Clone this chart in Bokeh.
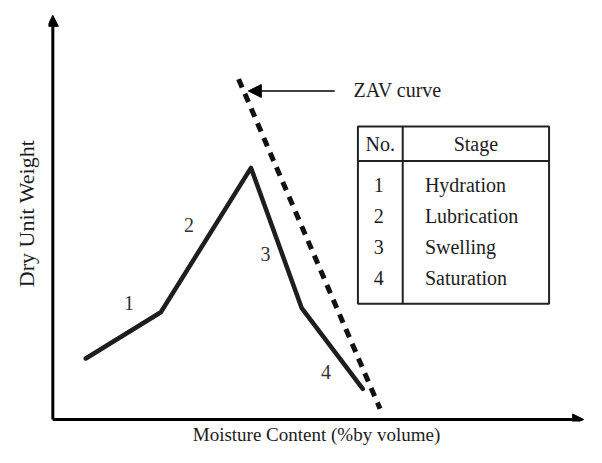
from bokeh.plotting import figure
from bokeh.models import Range1d, Arrow, NormalHead, ColumnDataSource, FixedTicker
from bokeh.embed import file_html
from bokeh.resources import INLINE
from bokeh.core.properties import value

# ---- data (schematic, arbitrary units) ----
moisture = [6.1, 20.0, 36.7, 46.1, 57.4]
dry_unit_weight = [14.9, 26.2, 61.5, 27.2, 7.5]

zav_moisture = [34.4, 60.6]
zav_weight = [83.2, 2.6]

stage_no = ["1", "2", "3", "4"]
stage_name = ["Hydration", "Lubrication", "Swelling", "Saturation"]

x_title = "Moisture Content (%by volume)"
y_title = "Dry Unit Weight"
zav_text = "ZAV curve"

# ---- layout constants ----
FONT = value("Liberation Serif")
FS = "20px"
TXT = "#1c1c1c"
stage_lbl_x = [14.1, 25.2, 39.4, 50.6]
stage_lbl_y = [28.4, 47.6, 40.4, 11.5]
tbl_left, tbl_right, tbl_top, tbl_bottom = 56.5, 91.9, 71.6, 28.3
tbl_head, tbl_col = 63.2, 64.8
row_top, row_step = 57.3, 7.6

p = figure(width=586, height=447, output_backend="svg", toolbar_location=None,
           x_range=Range1d(-0.8, 98.46), y_range=Range1d(-0.5, 101.2),
           min_border_left=48, min_border_right=2, min_border_top=5, min_border_bottom=25)
p.grid.visible = False
p.outline_line_color = None
p.background_fill_color = "white"
p.border_fill_color = "white"

for ax in (p.xaxis[0], p.yaxis[0]):
    ax.ticker = FixedTicker(ticks=[])
    ax.axis_line_color = None
    ax.major_tick_line_color = None
    ax.minor_tick_line_color = None
    ax.major_tick_out = 0
    ax.minor_tick_out = 0
    ax.major_label_standoff = 0
    ax.axis_label_text_font = "Liberation Serif"
    ax.axis_label_text_font_style = "normal"
    ax.axis_label_text_color = TXT
p.xaxis.axis_label = x_title
p.yaxis.axis_label = y_title
p.xaxis.axis_label_text_font_size = "19px"
p.yaxis.axis_label_text_font_size = "22px"
p.xaxis.axis_label_standoff = 2
p.yaxis.axis_label_standoff = 10

# axes as arrows
p.add_layout(Arrow(end=NormalHead(size=11, fill_color="black", line_color="black"),
                   x_start=0, y_start=0, x_end=0, y_end=98.8, line_width=3, line_color="black"))
p.add_layout(Arrow(end=NormalHead(size=11, fill_color="black", line_color="black"),
                   x_start=0, y_start=0, x_end=98.3, y_end=0, line_width=3, line_color="black"))

# compaction curve
p.line(moisture, dry_unit_weight, line_width=4.5, line_color="#1e1e1e", line_join="round", line_cap="round")

# ZAV curve
p.line(zav_moisture, zav_weight, line_width=5, line_color="#111111", line_dash="9 7")

# arrow pointing to ZAV curve
p.add_layout(Arrow(end=NormalHead(size=13, fill_color="black", line_color="black"),
                   x_start=52.2, y_start=80.3, x_end=36.2, y_end=80.3, line_width=1.6, line_color="black"))
p.text([55.7], [80.6], text=[zav_text], text_font=FONT, text_font_size=FS,
       text_baseline="middle", text_align="left", text_color=TXT)

# stage labels on curve
p.text(stage_lbl_x, stage_lbl_y, text=stage_no, text_font=FONT, text_font_size=FS,
       text_baseline="middle", text_align="center", text_color="#333333")

# table
p.quad(left=[tbl_left], right=[tbl_right], bottom=[tbl_bottom], top=[tbl_top],
       fill_color=None, line_color="#222222", line_width=2)
p.segment(x0=[tbl_left, tbl_col], y0=[tbl_head, tbl_bottom], x1=[tbl_right, tbl_col], y1=[tbl_head, tbl_top],
          line_color="#222222", line_width=2)
head_y = (tbl_top + tbl_head) / 2
p.text([(tbl_left + tbl_col) / 2, (tbl_col + tbl_right) / 2], [head_y, head_y], text=["No.", "Stage"],
       text_font=FONT, text_font_size=FS, text_baseline="middle", text_align="center", text_color=TXT)
row_y = [row_top - i * row_step for i in range(len(stage_no))]
src = ColumnDataSource(dict(y=row_y, no=stage_no, name=stage_name,
                            xn=[(tbl_left + tbl_col) / 2 - 0.3] * len(stage_no),
                            xs=[tbl_col + 4.1] * len(stage_no)))
p.text(x="xn", y="y", text="no", source=src, text_font=FONT, text_font_size=FS,
       text_baseline="middle", text_align="center", text_color=TXT)
p.text(x="xs", y="y", text="name", source=src, text_font=FONT, text_font_size=FS,
       text_baseline="middle", text_align="left", text_color=TXT)

open("out.html", "w").write(file_html(p, INLINE))
